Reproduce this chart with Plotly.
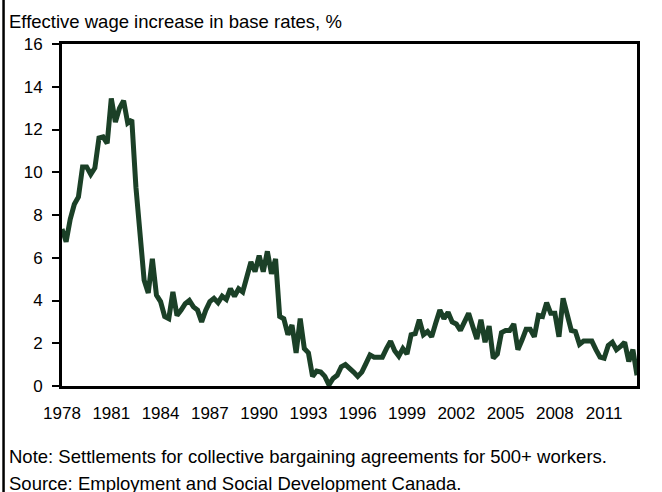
import plotly.graph_objects as go

# ---------------- data ----------------
start_year = 1978          # first quarter: 1978 Q1, quarterly observations
wage_increase = [
    7.35, 6.75, 7.8, 8.5, 8.85, 10.25, 10.25, 9.9, 10.2, 11.6,
    11.65, 11.35, 13.45, 12.35, 13.0, 13.35, 12.3, 12.45, 9.3, 7.0,
    4.95, 4.35, 5.95, 4.25, 3.95, 3.25, 3.15, 4.4, 3.3, 3.55,
    3.85, 4.0, 3.7, 3.55, 3.0, 3.55, 3.95, 4.1, 3.9, 4.2,
    4.05, 4.55, 4.2, 4.55, 4.4, 5.1, 5.8, 5.35, 6.1, 5.35,
    6.3, 5.25, 5.95, 3.25, 3.15, 2.4, 2.85, 1.55, 3.15, 1.75,
    1.55, 0.45, 0.7, 0.65, 0.45, 0.05, 0.35, 0.5, 0.9, 1.0,
    0.85, 0.65, 0.45, 0.65, 1.05, 1.45, 1.35, 1.35, 1.35, 1.75,
    2.1, 1.65, 1.4, 1.75, 1.5, 2.4, 2.45, 3.1, 2.4, 2.55,
    2.3, 2.95, 3.55, 3.15, 3.45, 3.0, 2.9, 2.6, 2.95, 3.4,
    2.8, 2.2, 3.1, 2.05, 2.8, 1.3, 1.5, 2.5, 2.6, 2.6,
    2.9, 1.7, 2.15, 2.65, 2.65, 2.3, 3.3, 3.25, 3.9, 3.4,
    3.4, 2.3, 4.1, 3.4, 2.6, 2.55, 1.95, 2.1, 2.1, 2.1,
    1.7, 1.35, 1.3, 1.9, 2.05, 1.7, 1.85, 2.05, 1.15, 1.7,
    0.5,
]
tick_years = [1978, 1981, 1984, 1987, 1990, 1993, 1996, 1999, 2002, 2005, 2008, 2011]
y_ticks = [0, 2, 4, 6, 8, 10, 12, 14, 16]

title_text = "Effective wage increase in base rates, %"
note_text = "Note: Settlements for collective bargaining agreements for 500+ workers."
source_text = "Source: Employment and Social Development Canada."

# ---------------- layout geometry ----------------
W, H = 662, 492
PL, PR, PT, PB = 62, 637.5, 44, 386   # plot area in pixels
pw, ph = PR - PL, PB - PT

def px_x(x):
    return (x - PL) / pw

def px_y(y):
    return (PB - y) / ph

quarter_x = [start_year + i / 4 for i in range(len(wage_increase))]

FONT = "Liberation Sans, Arial, sans-serif"
LINE_COLOR = "#1b4027"

fig = go.Figure()
fig.add_trace(go.Scatter(
    x=quarter_x, y=wage_increase, mode="lines",
    line=dict(color=LINE_COLOR, width=5, shape="linear"),
    hoverinfo="skip", showlegend=False,
))

fig.update_layout(
    width=W, height=H,
    margin=dict(l=PL, r=W - PR, t=PT, b=H - PB, pad=0),
    paper_bgcolor="white", plot_bgcolor="white",
    font=dict(family=FONT, color="black", size=17),
    showlegend=False,
    xaxis=dict(
        range=[quarter_x[0], quarter_x[-1]],
        tickmode="array", tickvals=tick_years, ticktext=[str(y) for y in tick_years],
        ticks="", showgrid=False, zeroline=False, automargin=False,
        showline=True, linewidth=3, linecolor="black", mirror=True,
        tickfont=dict(family=FONT, size=17, color="black"),
        ticklabelstandoff=10,
    ),
    yaxis=dict(
        range=[0, 16], tickmode="array", tickvals=y_ticks,
        ticks="outside", ticklen=7, tickwidth=2, tickcolor="black",
        showgrid=False, zeroline=False, automargin=False,
        showline=True, linewidth=3, linecolor="black", mirror=True,
        tickfont=dict(family=FONT, size=17, color="black"),
        ticklabelstandoff=6,
    ),
    annotations=[
        dict(text=title_text, xref="paper", yref="paper",
             x=px_x(7), y=px_y(21), xanchor="left", yanchor="middle",
             showarrow=False, font=dict(family=FONT, size=18.5, color="black")),
        dict(text=note_text, xref="paper", yref="paper",
             x=px_x(7), y=px_y(456), xanchor="left", yanchor="middle",
             showarrow=False, font=dict(family=FONT, size=18.5, color="black")),
        dict(text=source_text, xref="paper", yref="paper",
             x=px_x(7), y=px_y(483), xanchor="left", yanchor="middle",
             showarrow=False, font=dict(family=FONT, size=18.5, color="black")),
    ],
    shapes=[
        dict(type="line", xref="paper", yref="paper",
             x0=px_x(3.5), x1=px_x(3.5), y0=px_y(0), y1=px_y(H),
             line=dict(color="black", width=2.5)),
    ],
)

fig.write_html(
    "out.html",
    config={"displayModeBar": False, "staticPlot": True},
    post_script="document.body.style.margin='0';document.body.style.overflow='hidden';",
)
